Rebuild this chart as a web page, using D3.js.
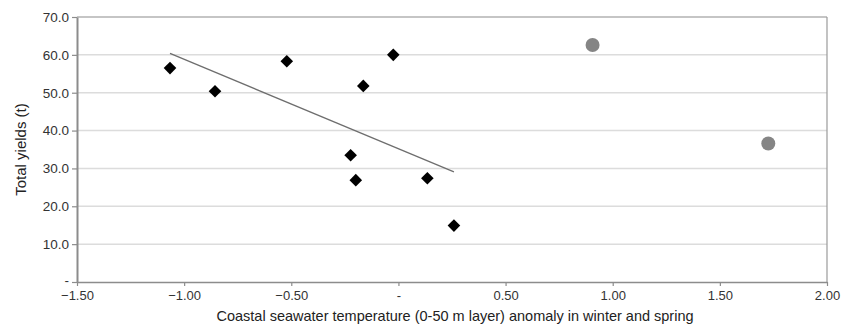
<!DOCTYPE html>
<html>
<head>
<meta charset="utf-8">
<script src="https://cdn.jsdelivr.net/npm/d3@7"></script>
<style>
  html, body { margin: 0; padding: 0; background: #fff; }
  svg { display: block; font-family: "Liberation Sans", Arial, sans-serif; }
</style>
</head>
<body>
<svg id="chart" width="848" height="330"></svg>
<script>
// Diamonds (black) – series used for the trend line
const diamondX = [-1.066, -0.856, -0.521, -0.024, -0.164, -0.223, -0.199, 0.135, 0.259];
const diamondY = [56.5, 50.4, 58.3, 60.0, 51.8, 33.5, 26.9, 27.4, 14.9];
// Grey circles (outliers)
const circleX = [0.906, 1.726];
const circleY = [62.6, 36.6];
// Axis ticks
const xTicks = [-1.5, -1.0, -0.5, 0, 0.5, 1.0, 1.5, 2.0];
const xTickLabels = ["\u22121.50", "\u22121.00", "\u22120.50", "-", "0.50", "1.00", "1.50", "2.00"];
const yTicks = [0, 10, 20, 30, 40, 50, 60, 70];
const yTickLabels = ["-", "10.0", "20.0", "30.0", "40.0", "50.0", "60.0", "70.0"];
const xTitle = "Coastal seawater temperature (0-50 m layer) anomaly in winter and spring";
const yTitle = "Total yields (t)";

const svg = d3.select("#chart");
const m = { left: 77, right: 21, top: 17, bottom: 48 };
const W = 848, H = 330;
const x = d3.scaleLinear().domain([-1.5, 2.0]).range([m.left, W - m.right]);
const y = d3.scaleLinear().domain([0, 70]).range([H - m.bottom, m.top]);
const FONT = "'Liberation Sans', Arial, sans-serif";

// Gridlines
svg.append("g").selectAll("line").data(yTicks.filter(d => d > 0 && d < 70)).join("line")
  .attr("x1", x(-1.5)).attr("x2", x(2.0))
  .attr("y1", d => y(d)).attr("y2", d => y(d))
  .attr("stroke", "#dcdcdc").attr("stroke-width", 1.5);

// Plot frame: top and right
svg.append("line").attr("x1", x(-1.5)).attr("x2", x(2.0)).attr("y1", y(70)).attr("y2", y(70))
  .attr("stroke", "#8c8c8c").attr("stroke-width", 1.2);
svg.append("line").attr("x1", x(2.0)).attr("x2", x(2.0)).attr("y1", y(70)).attr("y2", y(0))
  .attr("stroke", "#9a9a9a").attr("stroke-width", 1.2);

// X axis
const xAxis = d3.axisBottom(x).tickValues(xTicks)
  .tickFormat((d, i) => xTickLabels[i]).tickSize(4).tickPadding(5).tickSizeOuter(0);
const gx = svg.append("g").attr("transform", `translate(0,${y(0)})`).call(xAxis);
gx.select(".domain").attr("stroke", "#8c8c8c").attr("stroke-width", 1.5);
gx.selectAll(".tick line").attr("stroke", "#8c8c8c").attr("stroke-width", 1.2);
gx.selectAll(".tick text").attr("fill", "#333").attr("font-size", 13)
  .attr("font-family", FONT);

// Y axis
const yAxis = d3.axisLeft(y).tickValues(yTicks)
  .tickFormat((d, i) => yTickLabels[i]).tickSize(5).tickPadding(3).tickSizeOuter(0);
const gy = svg.append("g").attr("transform", `translate(${x(-1.5)},0)`).call(yAxis);
gy.select(".domain").attr("stroke", "#8c8c8c").attr("stroke-width", 2);
gy.selectAll(".tick line").attr("stroke", "#8c8c8c").attr("stroke-width", 1.2);
gy.selectAll(".tick text").attr("fill", "#333").attr("font-size", 13.5)
  .attr("font-family", FONT)
  .attr("dy", d => d === 0 ? "0.15em" : "0.32em");

// Linear trend line (least squares over the diamond series)
const n = diamondX.length;
const mx = d3.mean(diamondX), my = d3.mean(diamondY);
let sxy = 0, sxx = 0;
for (let i = 0; i < n; i++) { sxy += (diamondX[i] - mx) * (diamondY[i] - my); sxx += (diamondX[i] - mx) ** 2; }
const slope = sxy / sxx, icpt = my - slope * mx;
const x0 = d3.min(diamondX), x1 = d3.max(diamondX);
svg.append("line")
  .attr("x1", x(x0)).attr("y1", y(icpt + slope * x0))
  .attr("x2", x(x1)).attr("y2", y(icpt + slope * x1))
  .attr("stroke", "#6e6e6e").attr("stroke-width", 1.3);

// Diamonds
const diamonds = diamondX.map((d, i) => ({ x: d, y: diamondY[i] }));
svg.append("g").selectAll("path").data(diamonds).join("path")
  .attr("d", d => {
    const cx = x(d.x), cy = y(d.y), r = 6.3;
    return `M${cx},${cy - r}L${cx + r},${cy}L${cx},${cy + r}L${cx - r},${cy}Z`;
  })
  .attr("fill", "#000");

// Circles
const circles = circleX.map((d, i) => ({ x: d, y: circleY[i] }));
svg.append("g").selectAll("circle").data(circles).join("circle")
  .attr("cx", d => x(d.x)).attr("cy", d => y(d.y)).attr("r", 7)
  .attr("fill", "#858585");

// Axis titles
svg.append("text").attr("x", 455).attr("y", 321)
  .attr("text-anchor", "middle").attr("font-size", 14.5).attr("fill", "#222")
  .attr("font-family", FONT)
  .text(xTitle);
svg.append("text").attr("transform", `translate(26,${(y(0) + y(70)) / 2}) rotate(-90)`)
  .attr("text-anchor", "middle").attr("font-size", 15).attr("fill", "#222")
  .attr("font-family", FONT)
  .text(yTitle);
</script>
</body>
</html>
